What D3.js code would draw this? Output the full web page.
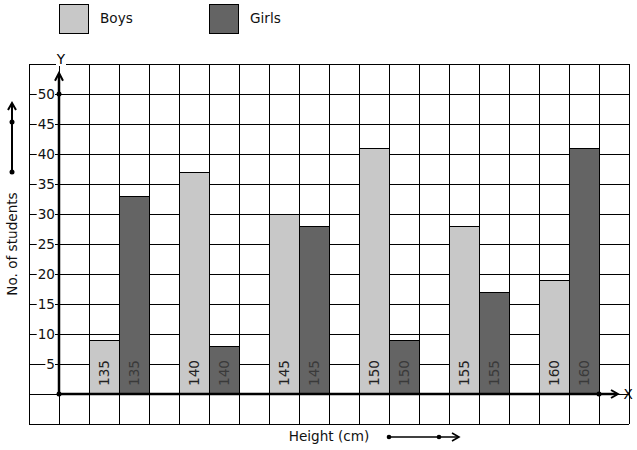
<!DOCTYPE html>
<html><head><meta charset="utf-8">
<script src="https://cdn.jsdelivr.net/npm/d3@7"></script>
<style>
html,body{margin:0;padding:0;background:#fff;}
svg{display:block;font-family:"DejaVu Sans",Verdana,sans-serif;}
</style></head>
<body><svg id="c" width="637" height="450"></svg>
<script>
const categories = ["135","140","145","150","155","160"];
const boys  = [9, 37, 30, 41, 28, 19];
const girls = [33, 8, 28, 9, 17, 41];
const yTicks = [5,10,15,20,25,30,35,40,45,50];
const seriesNames = ["Boys","Girls"];
const seriesColors = ["#c8c8c8","#646464"];
const FS = 13.6;

const svg = d3.select("#c");
// grid column scale (20 columns of unit width)
const gx = d3.scaleLinear().domain([0,20]).range([29,629]);
const y = d3.scaleLinear().domain([-5,55]).range([424,64]);
const xb = d3.scaleBand().domain(categories).range([gx(2), gx(20)]).paddingInner(0).paddingOuter(0);
const sub = xb.bandwidth()/3;

// grid
const g = svg.append("g").attr("stroke","#000").attr("stroke-width",1).attr("shape-rendering","crispEdges");
d3.range(0,21).forEach(i=>{
  g.append("line").attr("x1",gx(i)).attr("x2",gx(i)).attr("y1",y(55)).attr("y2",y(-5));
});
d3.range(-5,56,5).forEach(v=>{
  g.append("line").attr("x1",gx(0)).attr("x2",gx(20)).attr("y1",y(v)).attr("y2",y(v));
});

// bars
const bars = svg.append("g").attr("stroke","#000").attr("stroke-width",1).attr("shape-rendering","crispEdges");
categories.forEach((c,i)=>{
  [boys[i], girls[i]].forEach((v,k)=>{
    bars.append("rect").attr("x",xb(c)+k*sub).attr("y",y(v)).attr("width",sub).attr("height",y(0)-y(v))
      .attr("fill",seriesColors[k]);
  });
});
// bar labels
categories.forEach((c,i)=>{
  [0,1].forEach(k=>{
    const cx = xb(c)+k*sub+sub/2;
    const cy = y(0)-8;
    svg.append("text").attr("transform",`translate(${cx+5},${cy}) rotate(-90)`)
      .attr("font-size",FS).attr("fill", k===0?"#222":"#3a3a3a").attr("text-anchor","start").text(c);
  });
});

// axes
const ax = svg.append("g").attr("stroke","#000").attr("fill","none");
ax.append("line").attr("x1",gx(1)).attr("x2",gx(1)).attr("y1",y(0)).attr("y2",y(53.2)).attr("stroke-width",2.5);
ax.append("line").attr("x1",gx(1)).attr("x2",gx(19.6)).attr("y1",y(0)).attr("y2",y(0)).attr("stroke-width",2.5);
ax.append("path").attr("d",`M${gx(1)-4},${y(52.2)} L${gx(1)},${y(53.5)} L${gx(1)+4},${y(52.2)}`).attr("stroke-width",2);
ax.append("path").attr("d",`M${gx(19.4)},${y(0)-4} L${gx(19.63)},${y(0)} L${gx(19.4)},${y(0)+4}`).attr("stroke-width",2);
svg.append("circle").attr("cx",gx(1)).attr("cy",y(50)).attr("r",2.5);
svg.append("circle").attr("cx",gx(1)).attr("cy",y(0)).attr("r",2.5);
svg.append("circle").attr("cx",gx(19)).attr("cy",y(0)).attr("r",2.5);

// y tick labels with white backing
yTicks.forEach(v=>{
  const t = svg.append("text").attr("x",gx(1)-4).attr("y",y(v)).attr("dy","0.36em")
    .attr("text-anchor","end").attr("font-size",FS).attr("fill","#111").text(v);
  const bb = t.node().getBBox();
  svg.insert("rect","text").attr("x",bb.x-1).attr("y",y(v)-1).attr("width",bb.width+1).attr("height",3).attr("fill","#fff");
});
svg.selectAll("text").raise();

// Axis letters
svg.append("text").attr("x",gx(1)+2).attr("y",y(55)).attr("text-anchor","middle").attr("font-size",FS).text("Y");
svg.insert("rect","text").attr("x",gx(1)-3).attr("y",y(55)-1).attr("width",10).attr("height",3).attr("fill","#fff");
svg.append("text").attr("x",gx(19.97)).attr("y",y(0)).attr("dy","0.36em").attr("text-anchor","middle").attr("font-size",FS).text("X");

// Y title + arrow
svg.append("text").attr("transform",`translate(17,${y(25)}) rotate(-90)`).attr("text-anchor","middle")
  .attr("font-size",FS).attr("fill","#111").text("No. of students");
const ya = svg.append("g").attr("stroke","#000").attr("fill","none").attr("stroke-width",2);
ya.append("line").attr("x1",12).attr("x2",12).attr("y1",172).attr("y2",104);
ya.append("path").attr("d","M8,110 L12,103 L16,110");
svg.append("circle").attr("cx",12).attr("cy",172).attr("r",2.5);
svg.append("circle").attr("cx",12).attr("cy",122).attr("r",2.5);

// X title + arrow
svg.append("text").attr("x",329).attr("y",441).attr("text-anchor","middle").attr("font-size",FS).attr("fill","#111").text("Height (cm)");
const xa = svg.append("g").attr("stroke","#000").attr("fill","none").attr("stroke-width",1.6);
xa.append("line").attr("x1",389).attr("x2",459).attr("y1",437).attr("y2",437);
xa.append("path").attr("d","M452,433 L459,437 L452,441");
svg.append("circle").attr("cx",389).attr("cy",437).attr("r",2.3);
svg.append("circle").attr("cx",439).attr("cy",437).attr("r",2.3);

// legend
seriesNames.forEach((n,k)=>{
  const lx = gx(1) + k*150;
  svg.append("rect").attr("x",lx+0.5).attr("y",4.5).attr("width",29).attr("height",29)
    .attr("fill",seriesColors[k]).attr("stroke","#000");
  svg.append("text").attr("x",lx+41).attr("y",18).attr("dy","0.36em").attr("font-size",FS).attr("fill","#111").text(n);
});
</script></body></html>
